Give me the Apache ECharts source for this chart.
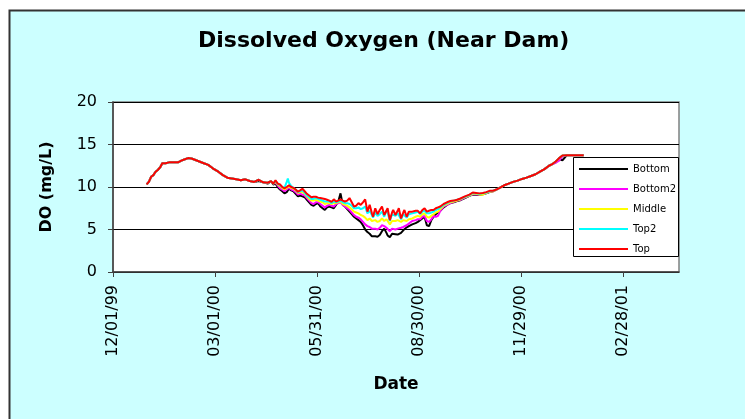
<!DOCTYPE html>
<html>
<head>
<meta charset="utf-8">
<script src="https://cdn.jsdelivr.net/npm/echarts@6/dist/echarts.min.js"></script>
<style>
  html, body { margin: 0; padding: 0; background: #ffffff; }
  #chart { width: 745px; height: 419px; }
</style>
</head>
<body>
<div id="chart"></div>
<script>
// Sampling dates of the dissolved-oxygen record near the dam
const dates = [
  '1999-12-31','2000-01-02','2000-01-04','2000-01-06','2000-01-08','2000-01-10','2000-01-12','2000-01-14','2000-01-17','2000-01-20',
  '2000-01-24','2000-01-28','2000-01-31','2000-02-02','2000-02-06','2000-02-09','2000-02-12','2000-02-16','2000-02-20','2000-02-24',
  '2000-02-28','2000-03-04','2000-03-08','2000-03-12','2000-03-16','2000-03-20','2000-03-24','2000-03-28','2000-04-01','2000-04-05',
  '2000-04-09','2000-04-13','2000-04-17','2000-04-20','2000-04-22','2000-04-24','2000-04-26','2000-04-28','2000-04-30','2000-05-02',
  '2000-05-04','2000-05-05','2000-05-06','2000-05-08','2000-05-10','2000-05-12','2000-05-14','2000-05-16','2000-05-18','2000-05-20',
  '2000-05-22','2000-05-24','2000-05-26','2000-05-28','2000-05-30','2000-06-01','2000-06-03','2000-06-05','2000-06-07','2000-06-09',
  '2000-06-11','2000-06-13','2000-06-15','2000-06-17','2000-06-19','2000-06-21','2000-06-23','2000-06-25','2000-06-27','2000-06-29',
  '2000-07-01','2000-07-03','2000-07-05','2000-07-07','2000-07-09','2000-07-11','2000-07-13','2000-07-15','2000-07-17','2000-07-19',
  '2000-07-20','2000-07-22','2000-07-24','2000-07-26','2000-07-28','2000-07-30','2000-08-01','2000-08-02','2000-08-04','2000-08-06',
  '2000-08-07','2000-08-09','2000-08-11','2000-08-12','2000-08-14','2000-08-16','2000-08-17','2000-08-19','2000-08-21','2000-08-22',
  '2000-08-24','2000-08-27','2000-08-29','2000-08-31','2000-09-02','2000-09-04','2000-09-06','2000-09-08','2000-09-10','2000-09-12',
  '2000-09-14','2000-09-16','2000-09-18','2000-09-21','2000-09-24','2000-09-27','2000-09-30','2000-10-03','2000-10-06','2000-10-10',
  '2000-10-14','2000-10-17','2000-10-20','2000-10-23','2000-10-26','2000-10-29','2000-11-01','2000-11-04','2000-11-07','2000-11-10',
  '2000-11-14','2000-11-18','2000-11-22','2000-11-26','2000-11-30','2000-12-04','2000-12-08','2000-12-12','2000-12-16','2000-12-20',
  '2000-12-24','2000-12-27','2000-12-30','2001-01-02','2001-01-05','2001-01-09','2001-01-14','2001-01-19','2001-01-24'
];

// DO (mg/L) at each depth
const bottomDO = [
  10.3,10.6,11.2,11.4,11.8,12.0,12.3,12.8,12.8,12.9,
  12.9,12.9,13.1,13.2,13.4,13.35,13.2,13.0,12.8,12.6,
  12.2,11.8,11.4,11.1,11.0,10.9,10.8,10.9,10.7,10.6,
  10.7,10.55,10.4,10.7,10.3,10.4,10.0,9.7,9.5,9.25,
  9.4,9.6,9.8,9.6,9.5,9.2,8.9,9.0,8.9,8.8,
  8.5,8.2,7.9,7.8,8.0,8.1,7.7,7.5,7.3,7.6,
  7.7,7.6,7.5,7.9,8.3,9.25,7.9,7.7,7.4,7.1,
  6.8,6.5,6.3,6.1,5.9,5.5,5.0,4.7,4.5,4.2,
  4.15,4.2,4.15,4.35,4.8,5.1,4.6,4.3,4.1,4.5,
  4.55,4.45,4.4,4.35,4.6,4.9,5.1,5.25,5.4,5.5,
  5.6,5.75,5.9,6.1,6.3,6.5,5.5,5.4,6.1,6.5,
  6.8,7.0,7.2,7.6,7.9,8.1,8.2,8.35,8.45,8.7,
  8.95,9.1,9.1,9.05,9.15,9.25,9.4,9.5,9.7,9.9,
  10.2,10.4,10.6,10.75,10.95,11.1,11.3,11.5,11.8,12.1,
  12.5,12.7,12.9,13.3,13.15,13.75,13.75,13.75,13.75
];
const bottom2DO = [
  10.3,10.6,11.2,11.4,11.8,12.0,12.3,12.8,12.8,12.9,
  12.9,12.9,13.1,13.2,13.4,13.35,13.2,13.0,12.8,12.6,
  12.2,11.8,11.4,11.1,11.0,10.9,10.8,10.9,10.7,10.6,
  10.85,10.55,10.5,10.7,10.4,10.5,10.2,9.85,9.7,9.5,
  9.7,9.8,9.9,9.7,9.6,9.4,9.1,9.2,9.1,9.0,
  8.7,8.4,8.1,8.0,8.2,8.2,8.0,7.8,7.6,7.8,
  7.9,7.8,7.7,8.0,8.1,8.2,7.9,7.7,7.5,7.3,
  7.0,6.7,6.5,6.4,6.2,5.9,5.6,5.4,5.3,5.1,
  5.0,5.1,5.0,5.2,5.5,5.4,5.2,5.0,4.8,5.1,
  5.0,5.0,5.1,5.1,5.2,5.3,5.4,5.5,5.7,5.9,
  6.0,6.1,6.2,6.2,6.5,6.6,6.0,5.9,6.2,6.6,
  6.5,6.6,7.2,7.7,7.9,8.1,8.25,8.4,8.5,8.75,
  9.0,9.15,9.15,9.1,9.2,9.3,9.45,9.5,9.7,9.9,
  10.2,10.4,10.6,10.75,10.95,11.1,11.3,11.5,11.8,12.1,
  12.5,12.7,12.85,13.1,13.6,13.75,13.75,13.75,13.75
];
const middleDO = [
  10.3,10.6,11.2,11.4,11.8,12.0,12.3,12.8,12.8,12.9,
  12.9,12.9,13.1,13.2,13.4,13.35,13.2,13.0,12.8,12.6,
  12.2,11.8,11.4,11.1,11.0,10.9,10.8,10.9,10.7,10.6,
  10.85,10.55,10.5,10.7,10.4,10.6,10.3,10.1,9.9,9.7,
  9.9,10.0,10.1,9.9,9.8,9.6,9.3,9.4,9.4,9.2,
  8.9,8.6,8.4,8.4,8.5,8.4,8.3,8.2,8.0,8.1,
  8.1,8.0,8.1,8.1,8.2,8.3,8.0,7.9,7.8,7.6,
  7.4,7.1,7.0,6.9,6.7,6.6,6.4,6.1,6.3,6.0,
  5.9,6.1,5.9,6.0,6.3,6.0,6.2,6.0,5.6,6.0,
  6.1,6.0,6.1,6.1,5.9,6.1,6.2,6.0,6.2,6.3,
  6.3,6.5,6.6,6.5,6.8,6.9,6.5,6.4,6.6,6.8,
  7.0,7.1,7.4,7.8,8.0,8.2,8.3,8.4,8.55,8.8,
  9.0,9.2,9.2,9.1,9.1,9.3,9.45,9.5,9.7,9.9,
  10.2,10.4,10.6,10.75,10.95,11.1,11.3,11.5,11.8,12.1,
  12.5,12.7,13.0,13.4,13.7,13.75,13.75,13.75,13.75
];
const top2DO = [
  10.3,10.6,11.2,11.4,11.8,12.0,12.3,12.8,12.8,12.9,
  12.9,12.9,13.1,13.2,13.4,13.35,13.2,13.0,12.8,12.6,
  12.2,11.8,11.4,11.1,11.0,10.9,10.8,10.9,10.7,10.6,
  10.85,10.55,10.5,10.7,10.4,10.7,10.4,10.2,10.0,9.9,
  10.6,11.0,10.5,10.1,9.9,9.7,9.4,9.5,9.6,9.3,
  9.0,8.8,8.6,8.6,8.7,8.6,8.5,8.4,8.3,8.3,
  8.3,8.1,8.3,8.2,8.3,8.4,8.2,8.1,8.1,8.0,
  7.8,7.5,7.5,7.6,7.4,7.5,7.7,6.9,7.2,6.7,
  6.4,7.0,6.6,6.8,7.1,6.5,7.3,7.0,6.0,6.8,
  6.9,6.6,6.9,7.0,6.2,6.8,6.9,6.4,6.8,6.7,
  6.9,7.0,7.1,6.8,7.1,7.2,6.9,6.9,7.0,7.1,
  7.3,7.4,7.6,7.9,8.1,8.3,8.4,8.5,8.6,8.85,
  9.05,9.3,9.25,9.2,9.25,9.35,9.5,9.55,9.7,9.9,
  10.2,10.4,10.6,10.75,10.95,11.1,11.3,11.5,11.8,12.1,
  12.5,12.7,13.0,13.4,13.7,13.75,13.75,13.75,13.75
];
const topDO = [
  10.3,10.6,11.2,11.4,11.8,12.0,12.3,12.8,12.8,12.9,
  12.9,12.9,13.1,13.2,13.4,13.35,13.2,13.0,12.8,12.6,
  12.2,11.8,11.4,11.1,11.0,10.9,10.8,10.9,10.7,10.6,
  10.85,10.55,10.5,10.7,10.4,10.8,10.4,10.3,10.0,9.85,
  10.0,10.1,10.2,10.0,9.9,9.7,9.45,9.6,9.8,9.5,
  9.2,9.0,8.8,8.85,8.85,8.75,8.7,8.65,8.6,8.5,
  8.4,8.25,8.55,8.3,8.4,8.55,8.4,8.3,8.4,8.7,
  8.2,7.7,7.8,8.1,7.9,8.2,8.55,7.1,7.9,6.9,
  6.5,7.5,6.8,7.3,7.7,6.7,7.2,7.5,6.1,7.0,
  7.3,6.7,7.2,7.5,6.3,7.0,7.3,6.5,7.1,7.3,
  7.1,7.2,7.2,6.9,7.3,7.5,7.1,7.2,7.3,7.3,
  7.5,7.6,7.7,8.0,8.2,8.35,8.4,8.5,8.65,8.9,
  9.1,9.35,9.3,9.25,9.3,9.4,9.55,9.55,9.7,9.9,
  10.2,10.4,10.6,10.75,10.95,11.1,11.3,11.5,11.8,12.1,
  12.5,12.7,13.0,13.4,13.7,13.75,13.75,13.75,13.75
];

const seriesNames = ['Bottom', 'Bottom2', 'Middle', 'Top2', 'Top'];
const seriesColors = ['#000000', '#ff00ff', '#ffff00', '#00ffff', '#ff0000'];
const seriesValues = [bottomDO, bottom2DO, middleDO, top2DO, topDO];

// Date axis ticks, in days after 12/01/99 (every 91 days)
const dateTicks = [0, 91, 182, 273, 364, 455];
const yTicks = [0, 5, 10, 15, 20];

const DAY = 86400000;
const origin = Date.UTC(1999, 11, 1);
const dayOf = s => Math.round((Date.parse(s + 'T00:00:00Z') - origin) / DAY);
const pad = n => (n < 10 ? '0' : '') + n;
const fmtDate = d => {
  const t = new Date(origin + d * DAY);
  return pad(t.getUTCMonth() + 1) + '/' + pad(t.getUTCDate()) + '/' + pad(t.getUTCFullYear() % 100);
};

const FONT = 'DejaVu Sans';
const chart = echarts.init(document.getElementById('chart'), null, { renderer: 'canvas' });

chart.setOption({
  animation: false,
  backgroundColor: '#ccffff',
  title: {
    text: 'Dissolved Oxygen (Near Dam)',
    left: 193,
    top: 25,
    textStyle: { fontFamily: FONT, fontWeight: 'bold', fontSize: 22, color: '#000' }
  },
  grid: {
    left: 113, top: 102, right: 66, bottom: 147,
    show: true, backgroundColor: '#ffffff', borderColor: '#808080', borderWidth: 1.5
  },
  legend: {
    data: seriesNames,
    orient: 'vertical',
    left: 574,
    top: 159,
    icon: 'rect',
    itemWidth: 49,
    itemHeight: 2,
    itemGap: 10,
    z: 5,
    textStyle: { fontFamily: FONT, fontSize: 10, color: '#000' }
  },
  xAxis: {
    type: 'value',
    min: 0,
    max: 505,
    interval: 91,
    name: 'Date',
    nameLocation: 'middle',
    nameGap: 104,
    nameTextStyle: { fontFamily: FONT, fontWeight: 'bold', fontSize: 17, color: '#000' },
    axisLine: { show: true, lineStyle: { color: '#404040', width: 1.5 } },
    axisTick: { show: true, length: 5, customValues: dateTicks, lineStyle: { color: '#404040', width: 1 } },
    axisLabel: {
      customValues: dateTicks,
      rotate: 90,
      margin: 13,
      fontFamily: FONT,
      fontSize: 16,
      color: '#000',
      formatter: v => fmtDate(v)
    },
    splitLine: { show: false }
  },
  yAxis: {
    type: 'value',
    min: 0,
    max: 20,
    interval: 5,
    name: 'DO (mg/L)',
    nameLocation: 'middle',
    nameGap: 58,
    nameTextStyle: { fontFamily: FONT, fontWeight: 'bold', fontSize: 16, color: '#000' },
    axisLine: { show: true, lineStyle: { color: '#404040', width: 1.5 } },
    axisTick: { show: true, length: 5, customValues: yTicks, lineStyle: { color: '#404040', width: 1 } },
    axisLabel: { margin: 16, fontFamily: FONT, fontSize: 16, color: '#000' },
    splitLine: { show: true, lineStyle: { color: '#000000', width: 1 } }
  },
  graphic: [
    // white margin outside the chart frame and the frame edge
    { type: 'rect', z: 10, shape: { x: 0, y: 0, width: 745, height: 10 }, style: { fill: '#ffffff' } },
    { type: 'rect', z: 10, shape: { x: 0, y: 0, width: 9, height: 419 }, style: { fill: '#ffffff' } },
    { type: 'polyline', z: 11, shape: { points: [[9.5, 419], [9.5, 10.5], [745, 10.5]] },
      style: { stroke: '#333333', lineWidth: 2, fill: null } },
    // legend box
    { type: 'rect', z: 4, shape: { x: 573.5, y: 157.5, width: 105, height: 99 },
      style: { fill: '#ffffff', stroke: '#000000', lineWidth: 1 } }
  ],
  series: seriesNames.map((name, i) => ({
    name,
    type: 'line',
    showSymbol: false,
    symbol: 'none',
    color: seriesColors[i],
    lineStyle: { width: 2, color: seriesColors[i] },
    z: 2 + i * 0.01,
    data: dates.map((d, k) => [dayOf(d), seriesValues[i][k]])
  }))
});
</script>
</body>
</html>
